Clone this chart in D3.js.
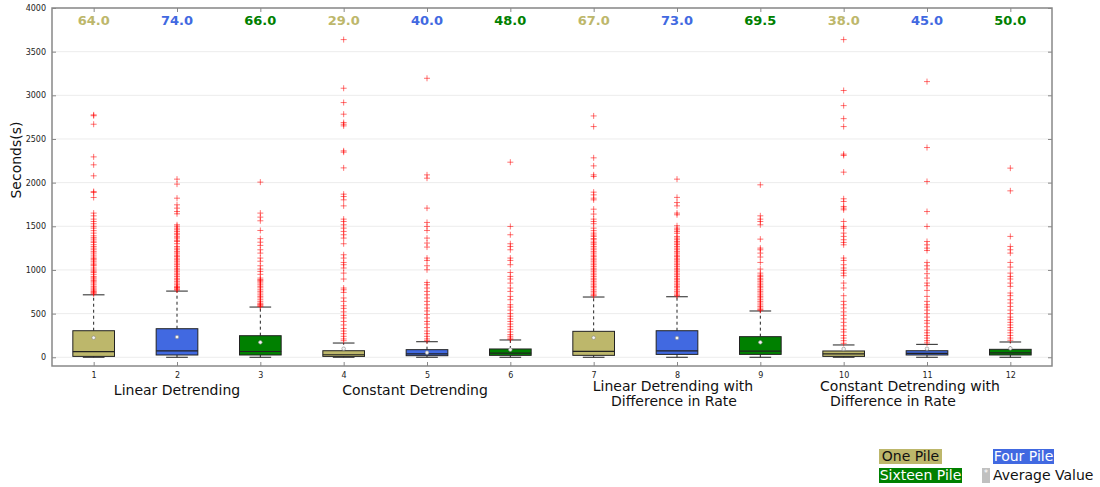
<!DOCTYPE html>
<html><head><meta charset="utf-8">
<script src="https://cdn.jsdelivr.net/npm/d3@7"></script>
<style>body{margin:0;background:#fff;} svg{display:block;font-family:"DejaVu Sans",sans-serif;}</style>
</head><body>
<svg id="c" width="1100" height="487"></svg>
<script>
const categories = ["1","2","3","4","5","6","7","8","9","10","11","12"];
const seriesNames = ["One Pile","Four Pile","Sixteen Pile"];
const seriesColors = ["#bdb76b","#4169e1","#008000"];
const groupLabels = [["Linear Detrending"],["Constant Detrending"],["Linear Detrending with","Difference in Rate"],["Constant Detrending with","Difference in Rate"]];
const medianLabels = ["64.0","74.0","66.0","29.0","40.0","48.0","67.0","73.0","69.5","38.0","45.0","50.0"];
const medians = [64,74,66,29,40,48,67,73,69.5,38,45,50];
const q1 = [10,26,26,10,18,22,22,33,33,10,26,26];
const q3 = [304,327,247,75,87,95,297,304,236,72,75,91];
const whiskerLow = [0,0,0,0,0,0,0,0,0,0,0,0];
const whiskerHigh = [715,758,575,163,178,198,690,693,530,141,148,175];
const means = [224,232,171,98,53,87,224,221,171,95,98,102];
const yTicks = [0,500,1000,1500,2000,2500,3000,3500,4000];
const outliers = [
 [2776,2766,2669,2295,2204,2078,1898,1887,1830,1651,1620,1582,1555,1529,1500,1479,1450,1422,1391,1370,1353,1330,1315,1290,1269,1250,1231,1210,1193,1170,1148,1130,1117,1100,1079,1060,1048,1022,1000,985,971,950,926,910,896,880,865,850,830,812,795,781,768,754,745,736,725],
 [2040,1983,1822,1746,1708,1669,1643,1517,1500,1479,1460,1441,1420,1403,1380,1365,1340,1326,1300,1269,1250,1231,1210,1193,1170,1155,1135,1117,1100,1079,1060,1041,1020,1002,985,964,945,926,905,888,870,850,830,812,800,793,780,770],
 [2006,1651,1605,1563,1452,1358,1318,1281,1231,1193,1136,1100,1048,1010,983,950,907,890,880,865,850,830,812,795,773,755,736,715,697,680,659,640,621,610,602,590,582],
 [3638,3081,2917,2784,2688,2669,2650,2364,2349,2169,1868,1841,1803,1734,1582,1555,1517,1479,1441,1403,1365,1300,1174,1136,1086,1060,1022,964,896,793,773,743,679,640,590,560,520,480,450,410,370,330,300,270,240,210,190],
 [3195,2089,2051,1708,1544,1498,1452,1365,1308,1262,1136,1109,1048,1002,857,831,793,754,716,679,640,602,564,530,490,450,410,380,340,300,270,240,210,190],
 [2234,1498,1403,1300,1269,1231,1136,1109,1060,971,926,896,850,793,754,697,659,602,575,540,500,470,440,410,380,350,320,290,260,240,220,205],
 [2764,2642,2284,2192,2089,2070,1891,1860,1822,1803,1696,1640,1582,1555,1529,1479,1450,1422,1400,1384,1360,1346,1320,1308,1290,1269,1250,1231,1210,1193,1170,1155,1135,1117,1100,1079,1060,1041,1020,1002,985,964,945,926,905,888,870,850,830,812,795,773,755,736,716,705],
 [2040,1831,1772,1734,1651,1632,1506,1479,1460,1441,1420,1384,1365,1346,1325,1308,1290,1269,1250,1231,1210,1193,1170,1155,1135,1117,1100,1079,1060,1041,1020,1002,985,964,945,926,905,888,870,850,830,812,795,773,755,736,715,705],
 [1975,1620,1582,1555,1517,1353,1250,1231,1193,1148,1086,1010,964,940,926,905,888,870,850,830,812,795,773,755,736,715,697,680,659,640,621,600,582,564,548,538],
 [3638,3055,2882,2733,2642,2326,2311,2120,1815,1784,1727,1708,1689,1555,1498,1479,1422,1384,1346,1315,1288,1136,1109,1060,1022,995,964,934,850,793,705,640,602,564,520,480,440,400,360,320,290,250,220,190,160],
 [3157,2402,2013,1669,1498,1326,1288,1250,1223,1086,1048,1010,957,907,850,819,766,697,640,602,575,540,500,460,420,390,350,310,280,250,220,190,165],
 [2166,1906,1384,1269,1231,1193,1086,1033,964,926,896,850,812,736,705,659,621,582,540,500,460,430,400,370,340,310,280,250,220,195]
];

const svg = d3.select("#c");
const L = 52, R = 1052, T = 8, B = 366;
const x = d3.scaleLinear().domain([0.5, 12.5]).range([L, R]);
const y = d3.scaleLinear().domain([-100, 4000]).range([B, T]);
const boxW = x(1.25) - x(1);
const capW = x(1.13) - x(1);

// grid
svg.append("g").selectAll("line").data(yTicks).join("line")
  .attr("x1", L).attr("x2", R).attr("y1", d => y(d)).attr("y2", d => y(d))
  .attr("stroke", "#ececec").attr("stroke-width", 1);

// axes (ticks inward)
const axL = svg.append("g").attr("transform", `translate(${L},0)`)
  .call(d3.axisLeft(y).tickValues(yTicks).tickFormat(d3.format("d")).tickSizeInner(-4).tickSizeOuter(0).tickPadding(6));
const axR = svg.append("g").attr("transform", `translate(${R},0)`)
  .call(d3.axisRight(y).tickValues(yTicks).tickSizeInner(-4).tickSizeOuter(0).tickFormat(""));
const xTickVals = categories.map((c, i) => i + 1);
const axB = svg.append("g").attr("transform", `translate(0,${B})`)
  .call(d3.axisBottom(x).tickValues(xTickVals).tickFormat((d, i) => categories[i]).tickSizeInner(-4).tickSizeOuter(0).tickPadding(6));
const axT = svg.append("g").attr("transform", `translate(0,${T})`)
  .call(d3.axisTop(x).tickValues(xTickVals).tickSizeInner(-4).tickSizeOuter(0).tickFormat(""));
[axL, axR, axB, axT].forEach(a => {
  a.select(".domain").remove();
  a.selectAll(".tick line").attr("stroke", "#888");
  a.selectAll("text").attr("font-size", 8).attr("fill", "#222").attr("font-family", "DejaVu Sans");
});

const data = categories.map((c, i) => ({
  i, pos: i + 1, color: seriesColors[i % 3], q1: q1[i], q3: q3[i], med: medians[i],
  lo: whiskerLow[i], hi: whiskerHigh[i], mean: means[i], out: outliers[i], label: medianLabels[i]
}));

const g = svg.append("g");
const bx = g.selectAll("g.box").data(data).join("g").attr("class", "box");
// whiskers
bx.append("line").attr("x1", d => x(d.pos)).attr("x2", d => x(d.pos))
  .attr("y1", d => y(d.q3)).attr("y2", d => y(d.hi))
  .attr("stroke", "#222").attr("stroke-dasharray", "3,3").attr("stroke-width", 1);
bx.append("line").attr("x1", d => x(d.pos)).attr("x2", d => x(d.pos))
  .attr("y1", d => y(d.q1)).attr("y2", d => y(d.lo))
  .attr("stroke", "#222").attr("stroke-dasharray", "3,3").attr("stroke-width", 1);
bx.append("line").attr("x1", d => x(d.pos) - capW).attr("x2", d => x(d.pos) + capW)
  .attr("y1", d => y(d.hi)).attr("y2", d => y(d.hi)).attr("stroke", "#222");
bx.append("line").attr("x1", d => x(d.pos) - capW).attr("x2", d => x(d.pos) + capW)
  .attr("y1", d => y(d.lo)).attr("y2", d => y(d.lo)).attr("stroke", "#222");
// boxes
bx.append("rect").attr("x", d => x(d.pos) - boxW).attr("width", 2 * boxW)
  .attr("y", d => y(d.q3)).attr("height", d => y(d.q1) - y(d.q3))
  .attr("fill", d => d.color).attr("stroke", "#222").attr("stroke-width", 1);
bx.append("line").attr("x1", d => x(d.pos) - boxW).attr("x2", d => x(d.pos) + boxW)
  .attr("y1", d => y(d.med)).attr("y2", d => y(d.med)).attr("stroke", "#222").attr("stroke-width", 1.2);
// outliers
bx.each(function(d) {
  d3.select(this).selectAll("path.o").data(d.out).join("path").attr("class", "o")
    .attr("d", v => `M${x(d.pos) - 3},${y(v)}h6M${x(d.pos)},${y(v) - 3}v6`)
    .attr("stroke", "red").attr("stroke-opacity", 0.55).attr("stroke-width", 1).attr("fill", "none");
});
// means
bx.append("circle").attr("cx", d => x(d.pos)).attr("cy", d => y(d.mean)).attr("r", 1.8)
  .attr("fill", "#f4f4f4").attr("stroke", "#888").attr("stroke-width", 0.6);
// median labels
bx.append("text").attr("x", d => x(d.pos)).attr("y", 25).attr("text-anchor", "middle")
  .attr("font-size", 13).attr("font-weight", "bold").attr("fill", d => d.color).text(d => d.label);

// frame
svg.append("rect").attr("x", L).attr("y", T).attr("width", R - L).attr("height", B - T)
  .attr("fill", "none").attr("stroke", "#888").attr("stroke-width", 1.5);

// y label
svg.append("text").attr("transform", "translate(21,160) rotate(-90)").attr("text-anchor", "middle")
  .attr("font-size", 14).attr("fill", "#111").text("Seconds(s)");

// group labels
const groupPos = [2, 5, 8, 11];
const groupDx = [[0], [-12], [-4, -3], [-17, -34]];
groupLabels.forEach((lines, gi) => {
  const base = lines.length === 1 ? 395 : 391;
  lines.forEach((t, li) => {
    svg.append("text").attr("x", x(groupPos[gi]) + groupDx[gi][li]).attr("y", base + li * 15)
      .attr("text-anchor", "middle").attr("font-size", 14).attr("fill", "#111").text(t);
  });
});

// legend
const leg = [
  {name: seriesNames[0], x: 879, y: 449, w: 63, fill: seriesColors[0], tc: "#111"},
  {name: seriesNames[1], x: 993, y: 449, w: 61, fill: seriesColors[1], tc: "#fff"},
  {name: seriesNames[2], x: 879, y: 468, w: 83, fill: seriesColors[2], tc: "#fff"}
];
leg.forEach(l => {
  svg.append("rect").attr("x", l.x).attr("y", l.y).attr("width", l.w).attr("height", 15).attr("fill", l.fill);
  svg.append("text").attr("x", l.x + l.w / 2).attr("y", l.y + 12).attr("text-anchor", "middle")
    .attr("font-size", 14).attr("fill", l.tc).text(l.name);
});
svg.append("rect").attr("x", 982).attr("y", 468).attr("width", 8).attr("height", 15).attr("fill", "#c0c0c0");
svg.append("text").attr("x", 986).attr("y", 476).attr("text-anchor", "middle").attr("font-size", 8).attr("fill", "#fff").text("*");
svg.append("text").attr("x", 993).attr("y", 480).attr("font-size", 14).attr("fill", "#111").text("Average Value");
</script>
</body></html>
